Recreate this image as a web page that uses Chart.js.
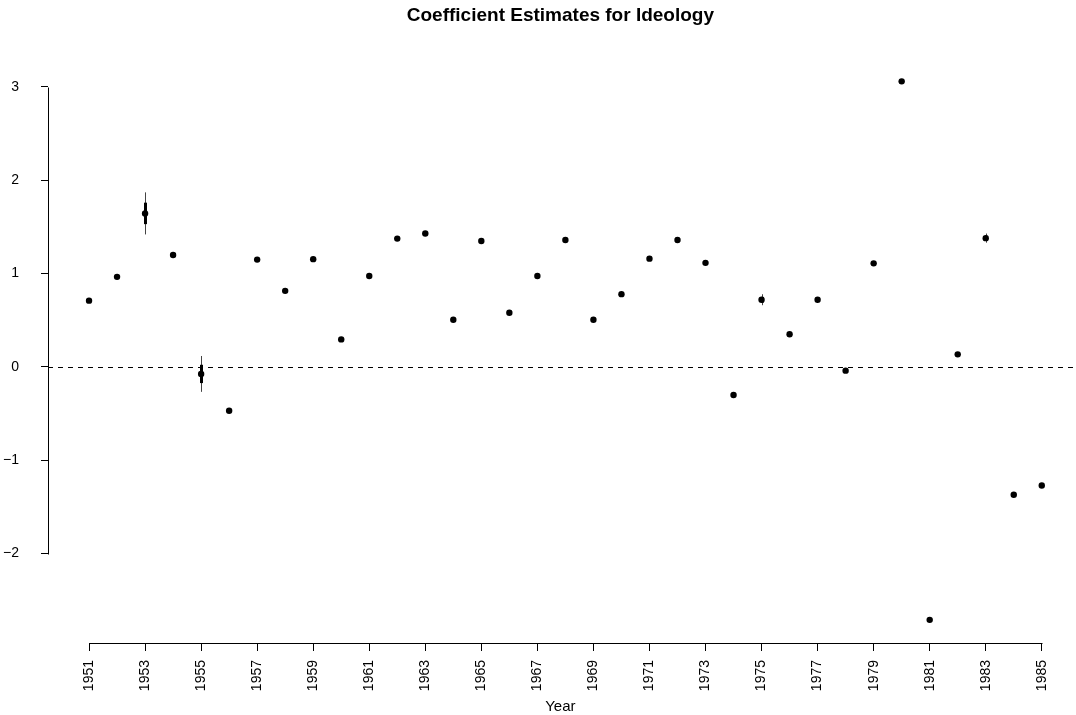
<!DOCTYPE html>
<html>
<head>
<meta charset="utf-8">
<script src="https://cdn.jsdelivr.net/npm/chart.js@4"></script>
<style>
  html, body { margin: 0; padding: 0; background: #fff; }
  #wrap { width: 1076px; height: 715px; }
</style>
</head>
<body>
<div id="wrap"><canvas id="coefChart"></canvas></div>
<script>
/* data */
const years = [1951, 1952, 1953, 1954, 1955, 1956, 1957, 1958, 1959, 1960,
  1961, 1962, 1963, 1964, 1965, 1966, 1967, 1968, 1969, 1970,
  1971, 1972, 1973, 1974, 1975, 1976, 1977, 1978, 1979, 1980,
  1981, 1982, 1983, 1984, 1985];
const estimates = [0.71, 0.965, 1.645, 1.20, -0.075, -0.47, 1.15, 0.815, 1.155, 0.295,
  0.975, 1.375, 1.43, 0.505, 1.35, 0.58, 0.975, 1.36, 0.505, 0.78,
  1.16, 1.36, 1.115, -0.30, 0.72, 0.35, 0.72, -0.04, 1.11, 3.06,
  -2.71, 0.135, 1.38, -1.37, -1.27];
const stdErrors = [0.012, 0.012, 0.115, 0.012, 0.098, 0.012, 0.012, 0.012, 0.012, 0.012,
  0.012, 0.012, 0.012, 0.012, 0.012, 0.012, 0.012, 0.012, 0.012, 0.012,
  0.012, 0.012, 0.012, 0.012, 0.03, 0.012, 0.012, 0.012, 0.012, 0.012,
  0.012, 0.012, 0.025, 0.012, 0.012];
const xTicks = [1951, 1953, 1955, 1957, 1959, 1961, 1963, 1965, 1967, 1969,
  1971, 1973, 1975, 1977, 1979, 1981, 1983, 1985];
const yTicks = [-2, -1, 0, 1, 2, 3];

const fontFamily = '"Liberation Sans", Arial, Helvetica, sans-serif';

// error bars + zero line, drawn under the points
const errorBars = {
  id: 'errorBars',
  beforeDatasetsDraw(chart) {
    const {ctx, chartArea, scales: {x, y}} = chart;
    ctx.save();
    // dashed reference line at 0
    ctx.strokeStyle = '#000';
    ctx.lineWidth = 1;
    ctx.setLineDash([5, 5]);
    const y0 = Math.round(y.getPixelForValue(0)) + 0.5;
    ctx.beginPath();
    ctx.moveTo(chartArea.left, y0);
    ctx.lineTo(chart.width, y0);
    ctx.stroke();
    ctx.setLineDash([]);

    years.forEach((yr, i) => {
      const px = Math.round(x.getPixelForValue(yr)) + 0.5;
      const est = estimates[i];
      const se = stdErrors[i];
      // outer (approx 95%)
      ctx.strokeStyle = '#444';
      ctx.lineWidth = 1;
      ctx.beginPath();
      ctx.moveTo(px, y.getPixelForValue(est - 1.96 * se));
      ctx.lineTo(px, y.getPixelForValue(est + 1.96 * se));
      ctx.stroke();
      // inner (1 se)
      ctx.strokeStyle = '#000';
      ctx.lineWidth = 3;
      ctx.beginPath();
      ctx.moveTo(px, y.getPixelForValue(est - se));
      ctx.lineTo(px, y.getPixelForValue(est + se));
      ctx.stroke();
    });
    ctx.restore();
  },
  // R style axis lines: only from first to last tick
  afterDraw(chart) {
    const {ctx, scales: {x, y}} = chart;
    ctx.save();
    ctx.strokeStyle = '#000';
    ctx.lineWidth = 1;
    ctx.beginPath();
    const ax = Math.round(y.right) + 0.5;
    ctx.moveTo(ax, Math.round(y.getPixelForValue(yTicks[0])) + 0.5);
    ctx.lineTo(ax, Math.round(y.getPixelForValue(yTicks[yTicks.length - 1])) + 0.5);
    const ay = Math.round(x.top) + 0.5;
    ctx.moveTo(Math.round(x.getPixelForValue(xTicks[0])) + 0.5, ay);
    ctx.lineTo(Math.round(x.getPixelForValue(xTicks[xTicks.length - 1])) + 0.5, ay);
    ctx.stroke();
    ctx.restore();
  }
};

const ctx = document.getElementById('coefChart');
new Chart(ctx, {
  type: 'scatter',
  data: {
    datasets: [{
      label: 'Ideology',
      data: years.map((yr, i) => ({x: yr, y: estimates[i]})),
      backgroundColor: '#000',
      borderWidth: 0,
      pointRadius: 3.2,
      pointHoverRadius: 3.2
    }]
  },
  options: {
    responsive: true,
    maintainAspectRatio: false,
    animation: false,
    layout: { padding: 0 },
    plugins: {
      legend: { display: false },
      tooltip: { enabled: false },
      title: {
        display: true,
        text: 'Coefficient Estimates for Ideology',
        fullSize: false,
        color: '#000',
        font: { family: fontFamily, size: 19, weight: 'bold' },
        padding: { top: 4, bottom: 34 }
      }
    },
    scales: {
      x: {
        type: 'linear',
        min: 1949.536,
        max: 1986.107,
        afterBuildTicks: (scale) => { scale.ticks = xTicks.map(v => ({value: v})); },
        afterFit: (scale) => {
          scale.height = 72;
          scale.paddingLeft = 0;
          scale.paddingRight = 0;
        },
        border: { display: false },
        grid: { display: true, drawOnChartArea: false, drawTicks: true, tickLength: 8, color: '#000' },
        ticks: {
          autoSkip: false,
          minRotation: 90,
          maxRotation: 90,
          padding: 9,
          color: '#000',
          font: { family: fontFamily, size: 14 },
          callback: (v) => String(v)
        },
        title: {
          display: true,
          text: 'Year',
          color: '#000',
          font: { family: fontFamily, size: 15 },
          padding: { top: 0, bottom: -1 }
        }
      },
      y: {
        min: -2.958,
        max: 3.28,
        afterBuildTicks: (scale) => { scale.ticks = yTicks.map(v => ({value: v})); },
        afterFit: (scale) => {
          scale.width = 48;
          scale.paddingTop = 0;
          scale.paddingBottom = 0;
        },
        border: { display: false },
        grid: { display: true, drawOnChartArea: false, drawTicks: true, tickLength: 7, color: '#000' },
        ticks: {
          padding: 22,
          color: '#000',
          font: { family: fontFamily, size: 14 },
          callback: (v) => String(v).replace('-', '\u2212')
        }
      }
    }
  },
  plugins: [errorBars]
});
</script>
</body>
</html>
